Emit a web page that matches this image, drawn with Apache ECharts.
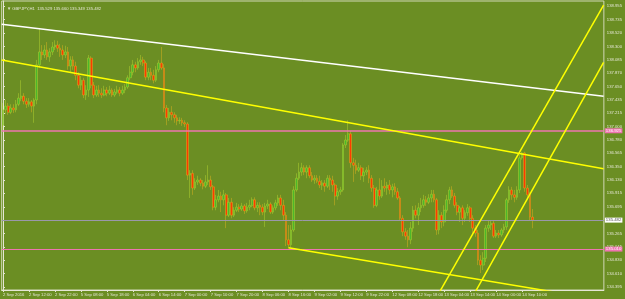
<!DOCTYPE html>
<html><head><meta charset="utf-8">
<script src="https://cdn.jsdelivr.net/npm/echarts@6/dist/echarts.min.js"></script>
<style>html,body{margin:0;padding:0;background:#6b8e23}#c{width:625px;height:299px}</style>
</head><body><div id="c"></div>
<script>
// ---- data ----
const titleText = 'GBPJPY,H1  135.529 135.660 135.349 135.482';
const xTickLabels = ['2 Sep 2016','2 Sep 12:00','2 Sep 22:00','5 Sep 08:00','5 Sep 18:00','6 Sep 04:00','6 Sep 14:00','7 Sep 00:00','7 Sep 10:00','7 Sep 20:00','8 Sep 06:00','8 Sep 16:00','9 Sep 02:00','9 Sep 12:00','9 Sep 22:00','12 Sep 08:00','12 Sep 18:00','13 Sep 04:00','13 Sep 14:00','14 Sep 00:00','14 Sep 10:00'];
const yTickValues = [138.955,138.735,138.520,138.300,138.085,137.870,137.650,137.435,137.215,137.000,136.780,136.565,136.350,136.130,135.915,135.695,135.480,135.265,135.045,134.830,134.610,134.395];

const opens = [
137.02,137.27,137.33,137.23,137.30,137.27,137.36,137.46,137.49,137.41,
137.36,137.40,137.33,137.43,138.00,138.21,138.16,138.24,138.13,138.21,
138.29,138.32,138.27,138.24,138.16,138.21,137.98,138.08,137.98,137.83,
137.67,137.75,137.51,137.59,138.11,137.67,137.51,137.59,137.54,137.51,
137.59,137.54,137.59,137.51,137.56,137.59,137.54,137.59,137.64,137.79,
137.88,138.00,137.95,138.05,138.08,138.03,137.80,137.88,137.83,137.75,
137.92,138.03,137.95,137.30,137.14,137.23,137.19,137.14,137.09,137.10,
137.06,137.04,136.21,136.24,136.00,136.10,136.13,136.08,136.03,136.10,
136.13,136.02,135.69,135.81,135.87,135.81,135.89,135.56,135.77,135.56,
135.64,135.69,135.66,135.71,135.63,135.69,135.72,135.81,135.68,135.72,
135.69,135.61,135.71,135.74,135.61,135.68,135.76,135.84,135.72,135.56,
135.16,135.08,135.32,135.97,136.16,136.26,136.33,136.26,136.33,136.20,
136.13,136.16,136.11,136.05,136.08,136.03,136.16,136.13,136.05,135.87,
135.94,135.97,136.70,136.78,136.88,136.41,136.37,136.29,136.33,136.20,
136.26,136.29,136.16,136.00,135.72,135.97,135.87,136.03,136.00,136.05,
135.97,136.02,135.94,135.84,135.51,135.29,135.22,135.16,135.35,135.64,
135.56,135.68,135.72,135.81,135.77,135.84,135.90,135.81,135.32,135.56,
135.45,135.64,135.81,135.97,135.87,135.72,135.61,135.68,135.51,135.60,
135.68,135.51,135.35,135.27,134.83,134.75,134.86,135.35,135.40,135.43,
135.22,135.27,135.24,135.32,135.37,135.81,135.97,135.89,135.85,135.97,
136.49,136.57,136.00,135.89,135.529];
const closes = [
137.27,137.33,137.23,137.30,137.27,137.36,137.46,137.49,137.41,137.36,
137.40,137.33,137.43,138.00,138.21,138.16,138.24,138.13,138.21,138.29,
138.32,138.27,138.24,138.16,138.21,137.98,138.08,137.98,137.83,137.67,
137.75,137.51,137.59,138.11,137.67,137.51,137.59,137.54,137.51,137.59,
137.54,137.59,137.51,137.56,137.59,137.54,137.59,137.64,137.79,137.88,
138.00,137.95,138.05,138.08,138.03,137.80,137.88,137.83,137.75,137.92,
138.03,137.95,137.30,137.14,137.23,137.19,137.14,137.09,137.10,137.06,
137.04,136.21,136.24,136.00,136.10,136.13,136.08,136.03,136.10,136.13,
136.02,135.69,135.81,135.87,135.81,135.89,135.56,135.77,135.56,135.64,
135.69,135.66,135.71,135.63,135.69,135.72,135.81,135.68,135.72,135.69,
135.61,135.71,135.74,135.61,135.68,135.76,135.84,135.72,135.56,135.16,
135.08,135.32,135.97,136.16,136.26,136.33,136.26,136.33,136.20,136.13,
136.16,136.11,136.05,136.08,136.03,136.16,136.13,136.05,135.87,135.94,
135.97,136.70,136.78,136.88,136.41,136.37,136.29,136.33,136.20,136.26,
136.29,136.16,136.00,135.72,135.97,135.87,136.03,136.00,136.05,135.97,
136.02,135.94,135.84,135.51,135.29,135.22,135.16,135.35,135.64,135.56,
135.68,135.72,135.81,135.77,135.84,135.90,135.81,135.32,135.56,135.45,
135.64,135.81,135.97,135.87,135.72,135.61,135.68,135.51,135.60,135.68,
135.51,135.35,135.27,134.83,134.75,134.86,135.35,135.40,135.43,135.22,
135.27,135.24,135.32,135.37,135.81,135.97,135.89,135.85,135.97,136.49,
136.57,136.00,135.89,135.53,135.482];
const lows = [
136.94,137.20,137.19,137.20,137.22,137.23,137.33,137.41,137.36,137.30,
137.32,137.23,137.06,137.36,137.95,138.08,138.11,138.08,138.05,138.16,
138.24,138.21,138.13,138.08,138.11,137.92,137.88,137.92,137.75,137.62,
137.59,137.46,137.43,137.48,137.62,137.46,137.48,137.48,137.46,137.49,
137.49,137.51,137.48,137.48,137.53,137.49,137.51,137.54,137.61,137.75,
137.83,137.88,137.92,138.00,137.98,137.75,137.75,137.75,137.70,137.72,
137.88,137.92,137.23,137.02,137.09,137.10,137.06,137.02,137.04,137.01,
136.99,136.13,135.84,135.89,135.97,136.05,136.03,135.98,136.00,136.05,
135.97,135.64,135.64,135.77,135.61,135.72,135.35,135.53,135.51,135.53,
135.61,135.61,135.63,135.58,135.60,135.64,135.69,135.64,135.61,135.56,
135.56,135.37,135.66,135.58,135.58,135.64,135.71,135.64,135.48,135.06,
135.03,135.04,135.29,135.94,136.13,136.20,136.21,136.16,136.16,136.10,
136.07,136.08,136.00,135.97,135.94,136.00,135.97,135.94,135.72,135.81,
135.89,135.94,136.65,136.75,136.33,136.10,136.23,136.26,136.13,136.10,
136.21,136.08,135.94,135.68,135.69,135.81,135.84,135.94,135.89,135.90,
135.85,135.89,135.81,135.48,135.22,135.16,135.04,135.09,135.29,135.51,
135.40,135.61,135.68,135.71,135.74,135.77,135.77,135.24,135.25,135.35,
135.38,135.60,135.74,135.84,135.68,135.56,135.45,135.40,135.45,135.55,
135.45,135.24,135.21,134.75,134.62,134.67,134.80,135.29,135.32,135.19,
135.19,135.19,135.21,135.27,135.32,135.76,135.81,135.77,135.81,135.92,
136.46,135.94,135.84,135.48,135.349];
const highs = [
137.38,137.43,137.38,137.36,137.36,137.43,137.54,137.75,137.54,137.46,
137.46,137.43,137.46,138.08,138.60,138.32,138.32,138.37,138.27,138.37,
138.40,138.39,138.34,138.32,138.31,138.29,138.14,138.14,138.05,137.88,
137.82,137.79,137.67,138.16,138.14,137.72,137.66,137.67,137.62,137.66,
137.64,137.66,137.62,137.61,137.66,137.64,137.66,137.69,137.83,137.98,
138.08,138.05,138.11,138.16,138.13,138.06,137.95,137.95,137.92,137.98,
138.08,138.29,138.01,137.35,137.30,137.33,137.23,137.19,137.15,137.14,
137.10,137.07,136.29,136.29,136.16,136.20,136.16,136.13,136.21,136.37,
136.20,136.05,135.89,135.97,135.94,135.97,135.92,135.84,135.84,135.69,
135.76,135.74,135.76,135.74,135.76,135.81,135.85,135.85,135.77,135.77,
135.74,135.76,135.81,135.77,135.72,135.81,135.89,135.89,135.81,135.61,
135.40,135.40,136.03,136.24,136.41,136.41,136.37,136.37,136.37,136.26,
136.21,136.21,136.20,136.13,136.13,136.21,136.21,136.20,136.08,136.00,
136.02,136.73,136.86,137.10,136.93,136.49,136.46,136.41,136.37,136.33,
136.34,136.37,136.21,136.05,136.02,136.16,136.13,136.16,136.10,136.13,
136.07,136.08,136.00,135.87,135.56,135.35,135.32,135.45,135.71,135.72,
135.76,135.84,135.89,135.87,135.90,135.97,135.97,135.84,135.64,135.61,
135.72,135.89,136.02,136.03,135.92,135.77,135.71,135.72,135.64,135.74,
135.71,135.56,135.40,135.32,134.91,134.96,135.40,135.48,135.48,135.47,
135.32,135.32,135.35,135.42,135.84,136.03,136.02,135.97,136.03,136.54,
136.59,136.59,136.05,135.94,135.660];

// trend lines: [bar index, price] anchor points
const whiteLine = [[-0.5, 138.66], [231.4, 137.49]];
const upperChannel = [[-0.5, 138.08], [231.4, 136.314]];
const lowerChannel = [[110, 135.03], [231.4, 134.18]];
const steepLeft = [[160, 133.71], [231.4, 138.97]];
const steepRight = [[175, 133.79], [231.4, 138.04]];
const pinkLevels = [136.925, 135.010];
const lastPrice = 135.482;
const emptyBarsRight = 27;

// ---- chart ----
const FG = '#e4e6d4';
const FONT = 'Liberation Sans';
const PINK = '#ee74b0';
const nSlots = opens.length + emptyBarsRight;
const cats = Array.from({length: nSlots}, (_, i) => String(i));
const candles = opens.map((o, i) => [o, closes[i], lows[i], highs[i]]);
const showTick = (i) => i % 10 === 0 && i / 10 < xTickLabels.length;

function trend(d, color, w) {
  return {type: 'line', xAxisIndex: 1, yAxisIndex: 0, data: d, symbol: 'none', silent: true, clip: true,
          lineStyle: {color: color, width: w}, z: 5, animation: false};
}
function levelLabel(v, bg, fg) {
  return {show: true, position: 'end', formatter: v.toFixed(3), backgroundColor: bg, color: fg,
          fontSize: 4.3, fontFamily: FONT, padding: [1, 1, 0, 1], distance: 1};
}

const chart = echarts.init(document.getElementById('c'));
chart.setOption({
  backgroundColor: '#6b8e23',
  animation: false,
  title: {text: '\u25BC ' + titleText, left: 2, top: 2,
          textStyle: {fontSize: 4.2, color: FG, fontWeight: 'normal', fontFamily: FONT}},
  grid: {left: 1, right: 21, top: 1, bottom: 9, show: true, borderColor: '#d2d8b8', borderWidth: 1},
  xAxis: [{
    type: 'category', data: cats, boundaryGap: true,
    axisLine: {show: true, lineStyle: {color: FG}},
    axisTick: {show: true, alignWithLabel: true, interval: showTick, length: 2, lineStyle: {color: FG}},
    axisLabel: {interval: showTick, formatter: (v, i) => xTickLabels[i / 10], align: 'left',
                fontSize: 4.2, color: FG, margin: 2.5, fontFamily: FONT},
    splitLine: {show: false}
  }, {
    type: 'value', min: -0.5, max: nSlots - 0.5, show: false
  }],
  yAxis: [{
    type: 'value', position: 'right', min: 134.346, max: 139.036,
    axisLine: {show: true, lineStyle: {color: FG}},
    axisTick: {show: true, length: 2, customValues: yTickValues, lineStyle: {color: FG}},
    axisLabel: {customValues: yTickValues, formatter: (v) => Number(v).toFixed(3),
                fontSize: 4.2, color: FG, margin: 3, fontFamily: FONT},
    splitLine: {show: false}
  }],
  series: [
    {
      type: 'candlestick', data: candles, barWidth: 2.2,
      itemStyle: {color: '#4cb82a', color0: '#ff3a00', borderColor: '#b0d030', borderColor0: '#d8b020', borderWidth: 0.5},
      markLine: {
        symbol: ['none', 'none'], silent: true, animation: false,
        data: [
          {yAxis: pinkLevels[0], lineStyle: {color: PINK, width: 1.5, type: 'solid'}, label: levelLabel(pinkLevels[0], PINK, '#ffffff')},
          {yAxis: pinkLevels[1], lineStyle: {color: PINK, width: 1, type: 'solid'}, label: levelLabel(pinkLevels[1], PINK, '#ffffff')},
          {yAxis: lastPrice, lineStyle: {color: '#9a98aa', width: 1, type: 'solid'}, label: levelLabel(lastPrice, '#ffffff', '#555555')}
        ]
      }
    },
    trend(whiteLine, '#ffffff', 1.5),
    trend(upperChannel, '#ffff00', 1.5),
    trend(lowerChannel, '#ffff00', 1.5),
    trend(steepLeft, '#ffff00', 1.5),
    trend(steepRight, '#ffff00', 1.5)
  ]
});
</script>
</body></html>
